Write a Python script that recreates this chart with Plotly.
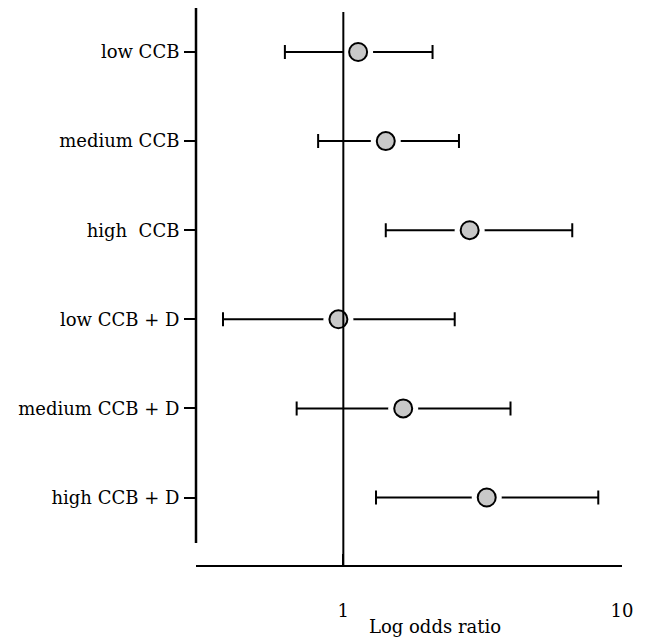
import plotly.graph_objects as go

categories = ["low CCB", "medium CCB", "high\u00a0 CCB", "low CCB + D", "medium CCB + D", "high CCB + D"]
odds_ratio = [1.13, 1.42, 2.84, 0.96, 1.64, 3.27]
ci_low = [0.617, 0.812, 1.42, 0.370, 0.68, 1.31]
ci_high = [2.09, 2.60, 6.63, 2.51, 3.98, 8.22]
x_tick_vals = [1, 10]
x_tick_text = ["1", "10"]
x_title = "Log odds ratio"

err_plus = [h - o for h, o in zip(ci_high, odds_ratio)]
err_minus = [o - l for o, l in zip(odds_ratio, ci_low)]
y_idx = list(range(len(categories)))

FONT = "DejaVu Serif"
FS = 18

fig = go.Figure()
# error bars
fig.add_trace(go.Scatter(
    x=odds_ratio, y=y_idx, mode="markers",
    marker=dict(size=1, opacity=0),
    error_x=dict(type="data", symmetric=False, array=err_plus, arrayminus=err_minus,
                 color="black", thickness=2, width=7),
    hoverinfo="skip", showlegend=False))
# white halo
fig.add_trace(go.Scatter(
    x=odds_ratio, y=y_idx, mode="markers",
    marker=dict(size=30, color="white", line=dict(width=0)),
    hoverinfo="skip", showlegend=False))
# points
fig.add_trace(go.Scatter(
    x=odds_ratio, y=y_idx, mode="markers",
    marker=dict(size=18, color="#c8c8c8", line=dict(width=2, color="black")),
    showlegend=False))

fig.add_shape(type="line", xref="x", yref="paper", x0=1, x1=1, y0=0, y1=0.9928,
              line=dict(color="black", width=2), layer="above")
fig.add_shape(type="line", xref="paper", yref="paper", x0=0, x1=0, y0=0.0395, y1=1.0054,
              line=dict(color="black", width=2.5), layer="above")

fig.add_annotation(text=x_title, xref="paper", yref="paper", x=0.561, y=-0.1113,
                   xanchor="center", yanchor="middle", showarrow=False,
                   font=dict(family=FONT, size=FS, color="black"))

fig.update_layout(
    width=640, height=629,
    margin=dict(l=188, r=26, t=0, b=72),
    paper_bgcolor="white", plot_bgcolor="white",
    font=dict(family=FONT, size=FS, color="black"),
    xaxis=dict(type="log", range=[-0.5287, 1.0], tickvals=x_tick_vals, ticktext=x_tick_text,
               ticks="inside", ticklen=11, tickwidth=2, tickcolor="black",
               showline=True, linewidth=2, linecolor="black",
               showgrid=False, zeroline=False, ticklabelstandoff=28),
    yaxis=dict(range=[5.7576, -0.4938], tickvals=y_idx, ticktext=categories,
               ticks="outside", ticklen=11, tickwidth=2, tickcolor="black",
               showline=False, showgrid=False, zeroline=False, ticklabelstandoff=1),
)

fig.write_html("out.html")
